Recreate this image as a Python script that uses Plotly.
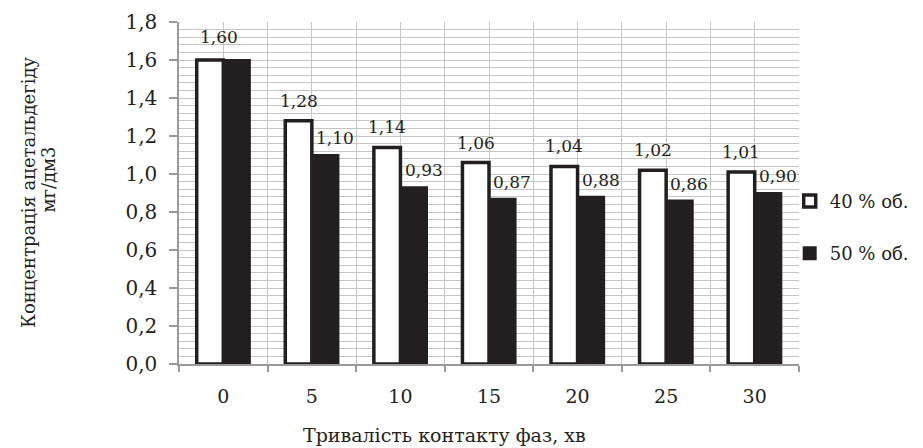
import plotly.graph_objects as go

categories = ["0", "5", "10", "15", "20", "25", "30"]
series_40 = [1.60, 1.28, 1.14, 1.06, 1.04, 1.02, 1.01]
series_50 = [1.60, 1.10, 0.93, 0.87, 0.88, 0.86, 0.90]
name_40 = "40 % об."
name_50 = "50 % об."
y_title_1 = "Концентрація ацетальдегіду"
y_title_2 = "мг/дм3"
x_title = "Тривалість контакту фаз, хв"

FONT = "DejaVu Serif"
BLACK = "#231f20"
GRID = "#c6c6c6"
AXIS = "#9a9a9a"

xs = list(range(len(categories)))

def fmt(v):
    return f"{v:.2f}".replace(".", ",")

fig = go.Figure()
fig.add_trace(go.Bar(
    x=xs, y=series_40, name=name_40, legendgroup="a",
    marker=dict(color="white", line=dict(color=BLACK, width=3.5)),
    width=0.3, offset=-0.3,
))
fig.add_trace(go.Bar(
    x=xs, y=series_50, name=name_50, legendgroup="b",
    marker=dict(color=BLACK, line=dict(color=BLACK, width=2)),
    width=0.3, offset=0.0,
))

ann = []
for i, v in enumerate(series_40):
    ann.append(dict(x=i - 0.15, y=v, xref="x", yref="y", text=fmt(v),
                    showarrow=False, yanchor="bottom", xanchor="center",
                    xshift=9 if i == 0 else 0, yshift=11 if i == 0 else 8,
                    font=dict(family=FONT, size=17, color=BLACK)))
for i, v in enumerate(series_50):
    if i == 0:
        continue  # hidden behind the first label in the reference
    ann.append(dict(x=i + 0.15, y=v, xref="x", yref="y", text=fmt(v),
                    showarrow=False, yanchor="bottom", xanchor="center",
                    xshift=10, yshift=5,
                    font=dict(family=FONT, size=17, color=BLACK)))

ann.append(dict(x=-0.2435, y=0.5, xref="paper", yref="paper", text=y_title_1,
                textangle=-90, showarrow=False, xanchor="center", yanchor="middle",
                font=dict(family=FONT, size=18, color=BLACK)))
ann.append(dict(x=-0.211, y=0.54, xref="paper", yref="paper", text=y_title_2,
                textangle=-90, showarrow=False, xanchor="center", yanchor="middle",
                font=dict(family=FONT, size=18, color=BLACK)))
ann.append(dict(x=0.429, y=-0.2076, xref="paper", yref="paper", text=x_title,
                showarrow=False, xanchor="center", yanchor="middle",
                font=dict(family=FONT, size=19, color=BLACK)))

# The page body has an 8px default margin; the figure is sized and offset for it.
fig.update_layout(
    width=915, height=440,
    margin=dict(l=171, r=124, t=14, b=84, autoexpand=False),
    paper_bgcolor="white", plot_bgcolor="white",
    separators=", ",
    barmode="group",
    font=dict(family=FONT, color=BLACK),
    annotations=ann,
    showlegend=True,
    legend=dict(x=0.985, xanchor="left", y=0.53, yanchor="top",
                font=dict(family=FONT, size=18, color=BLACK),
                tracegroupgap=26, bgcolor="rgba(0,0,0,0)"),
)

fig.update_xaxes(
    range=[-0.5, len(categories) - 0.5],
    tickmode="array", tickvals=xs, ticktext=categories,
    ticks="", showgrid=True, gridcolor=GRID, gridwidth=1,
    showline=True, linecolor=AXIS, linewidth=1.5,
    tickfont=dict(family=FONT, size=19, color=BLACK),
    ticklabelstandoff=14, automargin=False,
    minor=dict(tick0=-0.5, dtick=1, ticks="outside", ticklen=6,
               tickcolor=AXIS, tickwidth=1.5, showgrid=True, gridcolor=GRID),
    zeroline=False, fixedrange=True,
)
fig.update_yaxes(
    range=[0, 1.8], dtick=0.2, tick0=0, tickformat=".1f",
    ticks="outside", ticklen=8, tickcolor=AXIS, tickwidth=1.5,
    showgrid=True, gridcolor=GRID, gridwidth=1,
    showline=True, linecolor=AXIS, linewidth=1.5,
    tickfont=dict(family=FONT, size=20, color=BLACK),
    ticklabelstandoff=8, automargin=False,
    minor=dict(dtick=0.04, tick0=0, showgrid=True, gridcolor=GRID, ticks=""),
    zeroline=False, fixedrange=True,
)

fig.write_html("out.html")
